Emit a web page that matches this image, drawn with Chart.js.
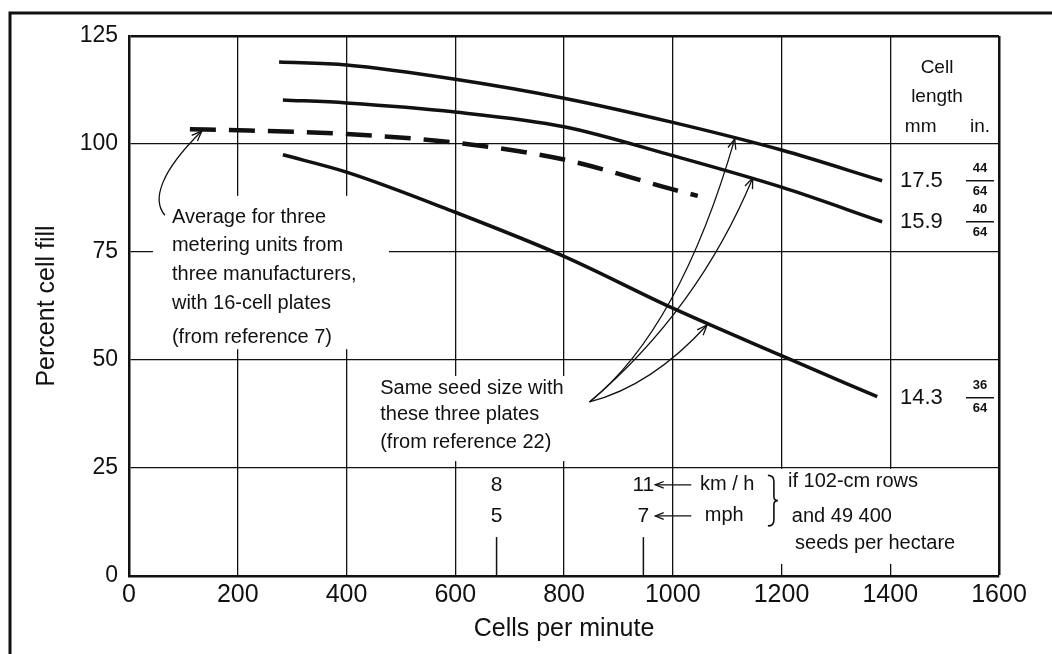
<!DOCTYPE html>
<html>
<head>
<meta charset="utf-8">
<script src="https://cdn.jsdelivr.net/npm/chart.js@4.4.1/dist/chart.umd.min.js"></script>
<style>
  html, body { margin: 0; padding: 0; background: #fff; }
  #wrap { width: 1052px; height: 654px; }
</style>
</head>
<body>
<div id="wrap"><canvas id="fillChart" width="1052" height="654"></canvas></div>
<script>
// Percent cell fill against plate speed
const cellsLong = [276, 400, 600, 800, 1000, 1200, 1385];
const fillLong = [119, 118.3, 115, 110.6, 105, 98.6, 91.5];
const cellsMed = [283, 400, 600, 800, 1000, 1200, 1385];
const fillMed = [110.2, 109.5, 107.4, 104, 97.3, 90, 82];
const cellsShort = [283, 400, 600, 800, 1000, 1200, 1376];
const fillShort = [97.5, 93.5, 84.2, 74, 62, 51, 41.5];
const cellsAvg = [112, 200, 400, 600, 800, 1000, 1046];
const fillAvg = [103.4, 103.2, 102.3, 100.3, 96.4, 89.5, 88];

// cell length of each plate: mm and sixty-fourths of an inch
const lengthMm = ['17.5', '15.9', '14.3'];
const lengthIn = ['44', '40', '36'];

// ground speed markers (102-cm rows, 49 400 seeds/ha)
const speedCells = [676, 946];
const speedKmh = ['8', '11'];
const speedMph = ['5', '7'];

const xTicks = [0, 200, 400, 600, 800, 1000, 1200, 1400, 1600];
const yTicks = [0, 25, 50, 75, 100, 125];

const ink = '#111';
const F = '"Liberation Sans", Arial, sans-serif';

const toPts = (xs, ys) => xs.map((v, i) => ({ x: v, y: ys[i] }));

function arrowHead(ctx, x, y, fromX, fromY, size) {
    const a = Math.atan2(y - fromY, x - fromX);
    ctx.beginPath();
    ctx.moveTo(x - size * Math.cos(a - 0.38), y - size * Math.sin(a - 0.38));
    ctx.lineTo(x, y);
    ctx.lineTo(x - size * Math.cos(a + 0.38), y - size * Math.sin(a + 0.38));
    ctx.stroke();
}

const notes = {
    id: 'notes',
    beforeDatasetsDraw(chart) {
        // blank out grid behind the text blocks
        const { ctx, scales: { x, y } } = chart;
        const boxes = [[44, 478, 88, 52.5], [452, 859, 46.3, 26.6], [1190, 1596, 24.8, 2.8]];
        ctx.save();
        ctx.fillStyle = '#fff';
        boxes.forEach(b => {
            const x0 = x.getPixelForValue(b[0]), x1 = x.getPixelForValue(b[1]);
            const y0 = y.getPixelForValue(b[2]), y1 = y.getPixelForValue(b[3]);
            ctx.fillRect(x0, y0, x1 - x0, y1 - y0);
        });
        ctx.restore();
    },
    afterDatasetsDraw(chart) {
        const { ctx, scales: { x, y } } = chart;
        const X = v => x.getPixelForValue(v);
        const Y = v => y.getPixelForValue(v);
        ctx.save();
        ctx.fillStyle = ink;
        ctx.strokeStyle = ink;
        ctx.textBaseline = 'middle';

        // note on the dashed curve
        ctx.font = '20px ' + F;
        ctx.textAlign = 'left';
        const avgNote = ['Average for three', 'metering units from', 'three manufacturers,', 'with 16-cell plates', '(from reference 7)'];
        const avgY = [83.1, 76.6, 69.7, 63, 55.3];
        avgNote.forEach((t, i) => ctx.fillText(t, X(79), Y(avgY[i])));
        ctx.lineWidth = 1.3;
        ctx.beginPath();
        ctx.moveTo(X(66), Y(83.5));
        ctx.bezierCurveTo(X(42), Y(87), X(57), Y(93.5), X(134), Y(103));
        ctx.stroke();
        arrowHead(ctx, X(134), Y(103), X(57), Y(93.5), 11);

        // note on the three plates
        const seedNote = ['Same seed size with', 'these three plates', '(from reference 22)'];
        const seedY = [43.5, 37.3, 31.0];
        seedNote.forEach((t, i) => ctx.fillText(t, X(462), Y(seedY[i])));
        const ox = X(847), oy = Y(40.3);
        const arrows = [[1013, 57.2, 1114, 101.2], [1046, 61.6, 1147, 92.1], [961, 44.0, 1063, 58.1]];
        arrows.forEach(a => {
            ctx.beginPath();
            ctx.moveTo(ox, oy);
            ctx.quadraticCurveTo(X(a[0]), Y(a[1]), X(a[2]), Y(a[3]));
            ctx.stroke();
            arrowHead(ctx, X(a[2]), Y(a[3]), X(a[0]), Y(a[1]), 11);
        });

        // cell length table
        ctx.font = '19px ' + F;
        ctx.textAlign = 'center';
        ctx.fillText('Cell', X(1486), Y(117.6));
        ctx.fillText('length', X(1486), Y(110.9));
        ctx.fillText('mm', X(1456), Y(103.9));
        ctx.fillText('in.', X(1565), Y(103.9));
        const ends = [fillLong, fillMed, fillShort].map(s => s[s.length - 1]);
        ends.forEach((v, i) => {
            const py = Y(v) + (i === 2 ? 1 : 0);
            ctx.font = '22px ' + F;
            ctx.textAlign = 'left';
            ctx.fillText(lengthMm[i], X(1418), py);
            ctx.font = 'bold 13px ' + F;
            ctx.textAlign = 'center';
            ctx.fillText(lengthIn[i], X(1565), py - 12);
            ctx.fillText('64', X(1565), py + 11);
            ctx.lineWidth = 1.5;
            ctx.beginPath();
            ctx.moveTo(X(1565) - 14, py);
            ctx.lineTo(X(1565) + 14, py);
            ctx.stroke();
        });

        // speed markers
        ctx.font = '21px ' + F;
        ctx.textAlign = 'center';
        ctx.lineWidth = 1.5;
        speedCells.forEach((c, i) => {
            ctx.fillText(speedKmh[i], X(c), Y(21.1));
            ctx.fillText(speedMph[i], X(c), Y(13.9));
            ctx.beginPath();
            ctx.moveTo(X(c), Y(9));
            ctx.lineTo(X(c), Y(0));
            ctx.stroke();
        });
        ctx.lineWidth = 1.3;
        [21.1, 13.9].forEach(v => {
            ctx.beginPath();
            ctx.moveTo(X(968), Y(v));
            ctx.lineTo(X(1034), Y(v));
            ctx.stroke();
            arrowHead(ctx, X(968), Y(v), X(1034), Y(v), 9);
        });
        ctx.font = '20px ' + F;
        ctx.textAlign = 'left';
        ctx.fillText('km / h', X(1050), Y(21.1));
        ctx.fillText('mph', X(1059), Y(13.9));
        // brace
        const bx = X(1186), bt = Y(23.3), bb = Y(11.6), bm = (bt + bb) / 2;
        ctx.lineWidth = 1.6;
        ctx.beginPath();
        ctx.moveTo(bx - 6, bt);
        ctx.quadraticCurveTo(bx, bt, bx, bt + 6);
        ctx.lineTo(bx, bm - 4);
        ctx.quadraticCurveTo(bx, bm, bx + 4, bm);
        ctx.quadraticCurveTo(bx, bm, bx, bm + 4);
        ctx.lineTo(bx, bb - 6);
        ctx.quadraticCurveTo(bx, bb, bx - 6, bb);
        ctx.stroke();
        ctx.fillText('if 102-cm rows', X(1212), Y(21.8));
        ctx.fillText('and 49 400', X(1219), Y(13.7));
        ctx.fillText('seeds per hectare', X(1225), Y(7.6));
        ctx.restore();
    },
    afterDraw(chart) {
        // frame of the scanned figure
        const ctx = chart.ctx;
        ctx.save();
        ctx.strokeStyle = ink;
        ctx.lineWidth = 3;
        ctx.beginPath();
        ctx.moveTo(10, 654);
        ctx.lineTo(10, 13);
        ctx.lineTo(1052, 13);
        ctx.stroke();
        ctx.restore();
    }
};

const chart = new Chart(document.getElementById('fillChart'), {
    type: 'line',
    data: {
        datasets: [
            { label: '17.5 mm', data: toPts(cellsLong, fillLong), borderWidth: 3.5 },
            { label: '15.9 mm', data: toPts(cellsMed, fillMed), borderWidth: 3.5 },
            { label: '14.3 mm', data: toPts(cellsShort, fillShort), borderWidth: 3.5 },
            { label: 'Average (ref. 7)', data: toPts(cellsAvg, fillAvg), borderWidth: 4.5, borderDash: [26, 13] }
        ]
    },
    options: {
        responsive: false,
        animation: false,
        layout: { padding: { left: 0, top: 36, right: 53, bottom: 0 } },
        elements: {
            line: { borderColor: ink, cubicInterpolationMode: 'monotone', borderCapStyle: 'butt', fill: false },
            point: { radius: 0 }
        },
        plugins: {
            legend: { display: false },
            tooltip: { enabled: false }
        },
        scales: {
            x: {
                type: 'linear',
                min: 0,
                max: 1600,
                afterBuildTicks: s => { s.ticks = xTicks.map(v => ({ value: v })); },
                afterFit: s => { s.height = 78; },
                ticks: { color: ink, font: { size: 25, family: F }, padding: 4, maxRotation: 0, callback: v => String(v) },
                grid: {
                    color: ink,
                    lineWidth: c => (c.tick && c.tick.value === 1600 ? 2.5 : 1.3),
                    drawTicks: false
                },
                border: { color: ink, width: 2.5 },
                title: { display: true, text: 'Cells per minute', color: ink, font: { size: 25, family: F }, padding: { bottom: 10 } }
            },
            y: {
                min: 0,
                max: 125,
                afterBuildTicks: s => { s.ticks = yTicks.map(v => ({ value: v })); },
                afterFit: s => { s.width = 129; },
                ticks: { color: ink, font: { size: 23, family: F }, padding: 11, callback: v => String(v) },
                grid: {
                    color: ink,
                    lineWidth: c => (c.tick && c.tick.value === 125 ? 2.5 : 1.3),
                    drawTicks: false
                },
                border: { color: ink, width: 2.5 },
                title: { display: true, text: 'Percent cell fill', color: ink, font: { size: 25, family: F }, padding: { top: 32 } }
            }
        }
    },
    plugins: [notes]
});
</script>
</body>
</html>
